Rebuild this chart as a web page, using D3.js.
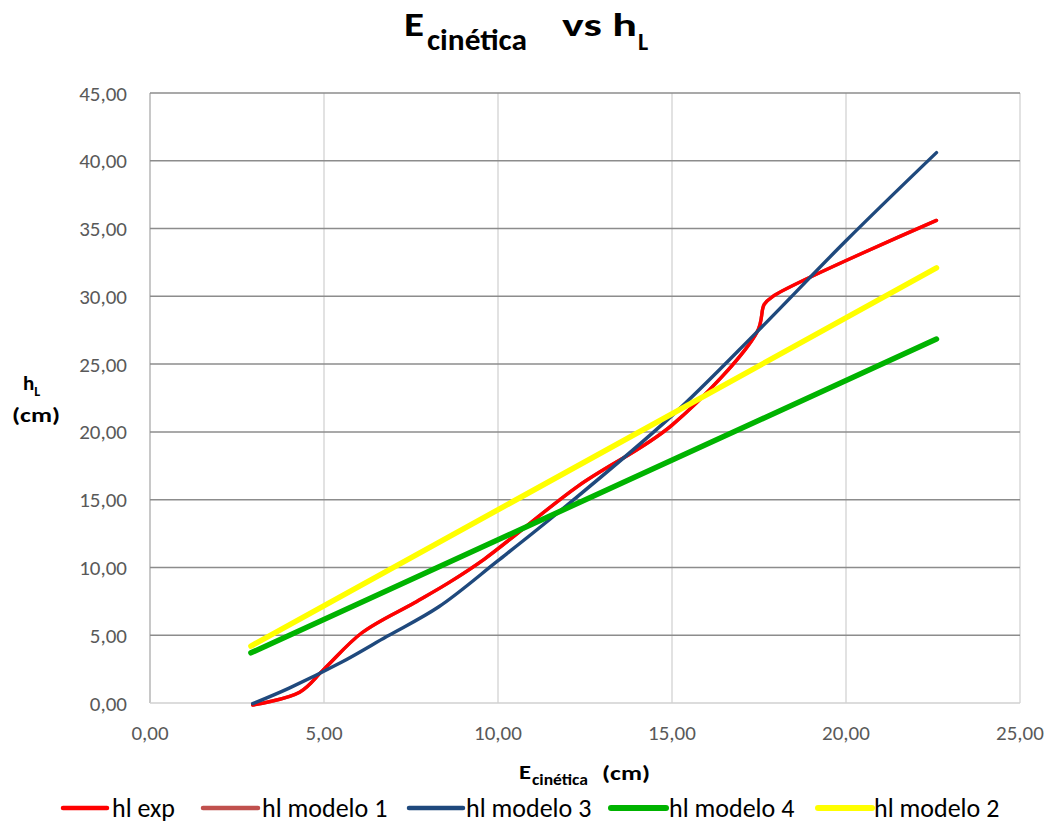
<!DOCTYPE html>
<html><head><meta charset="utf-8">
<script src="https://cdn.jsdelivr.net/npm/d3@7"></script>
<style>
html,body{margin:0;padding:0;background:#fff;}
svg{display:block;font-family:Carlito,Lato,"Open Sans",sans-serif;}
</style></head>
<body>
<svg id="chart" width="1055" height="825"></svg>
<script>
// ---- data ----
const xExp    = [2.95, 4.3, 5.0, 6.1, 7.6, 8.6, 9.6, 12.3, 15.0, 17.45, 17.65, 17.9, 22.6];
const hlExp   = [-0.15, 0.8, 2.5, 5.2, 7.4, 8.9, 10.6, 16.0, 20.5, 27.4, 29.4, 30.0, 35.6];
const hlModelo1 = hlExp.slice();
const xMod    = [2.95, 4.0, 5.5, 6.8, 8.3, 10.0, 11.8, 15.0, 17.45, 20.0, 22.6];
const hlModelo3 = [-0.05, 1.1, 3.0, 4.9, 7.1, 10.5, 14.2, 21.2, 27.4, 34.1, 40.6];
const xLin    = [2.9, 22.6];
const hlModelo4 = [3.7, 26.85];
const hlModelo2 = [4.2, 32.1];
const xTicks = [0, 5, 10, 15, 20, 25];
const yTicks = [0, 5, 10, 15, 20, 25, 30, 35, 40, 45];
const legendNames = ["hl exp", "hl modelo 1", "hl modelo 3", "hl modelo 4", "hl modelo 2"];

// ---- layout ----
const L = 150, R = 1020, T = 93, B = 703;
const svg = d3.select("#chart");
const x = d3.scaleLinear().domain([0, 25]).range([L, R]);
const y = d3.scaleLinear().domain([0, 45]).range([B, T]);
const fmt = d => d3.format(".2f")(d).replace(".", ",");

// vertical gridlines
svg.append("g").selectAll("line").data(xTicks).join("line")
  .attr("x1", d => x(d)).attr("x2", d => x(d)).attr("y1", T).attr("y2", B)
  .attr("stroke", "#d9d9d9").attr("stroke-width", 1.5);
// left border
svg.append("line").attr("x1", L).attr("x2", L).attr("y1", T).attr("y2", B)
  .attr("stroke", "#bfbfbf").attr("stroke-width", 1.5);
// horizontal gridlines
svg.append("g").selectAll("line").data(yTicks.filter(d => d > 0)).join("line")
  .attr("x1", L).attr("x2", R).attr("y1", d => y(d)).attr("y2", d => y(d))
  .attr("stroke", "#8c8c8c").attr("stroke-width", 1.5);
// bottom axis line
svg.append("line").attr("x1", L).attr("x2", R).attr("y1", B).attr("y2", B)
  .attr("stroke", "#d0d0d0").attr("stroke-width", 1.5);

// tick labels
svg.append("g").selectAll("text").data(yTicks).join("text")
  .attr("x", 127).attr("y", d => y(d) + 7.5).attr("text-anchor", "end")
  .attr("font-size", 21).attr("fill", "#595959").text(fmt);
svg.append("g").selectAll("text").data(xTicks).join("text")
  .attr("x", d => x(d)).attr("y", 740).attr("text-anchor", "middle")
  .attr("font-size", 21).attr("fill", "#595959").text(fmt);

// series
const smooth = d3.line().curve(d3.curveCatmullRom.alpha(0.5)).x(d => x(d[0])).y(d => y(d[1]));
const straight = d3.line().x(d => x(d[0])).y(d => y(d[1]));
const zip = (xs, ys) => xs.map((v, i) => [v, ys[i]]);
const series = [
  {name: legendNames[0], data: zip(xExp, hlExp), color: "#ff0000", w: 3.4, gen: smooth},
  {name: legendNames[1], data: zip(xExp, hlModelo1), color: "#c0504d", w: 3.4, gen: smooth},
  {name: legendNames[2], data: zip(xMod, hlModelo3), color: "#1f497d", w: 3.4, gen: smooth},
  {name: legendNames[3], data: zip(xLin, hlModelo4), color: "#00b300", w: 5.5, gen: straight},
  {name: legendNames[4], data: zip(xLin, hlModelo2), color: "#ffff00", w: 5.5, gen: straight}
];
const order = [1, 0, 2, 3, 4];
const plot = svg.append("g");
order.forEach(i => {
  const s = series[i];
  plot.append("path").attr("d", s.gen(s.data)).attr("fill", "none")
    .attr("stroke", s.color).attr("stroke-width", s.w)
    .attr("stroke-linecap", "round").attr("stroke-linejoin", "round");
});

// title (pieces placed to match reference)
const tg = svg.append("g").attr("font-weight", "bold").attr("fill", "#000");
tg.append("text").attr("x", 404).attr("y", 36).attr("font-size", 34)
  .attr("textLength", 20).attr("lengthAdjust", "spacingAndGlyphs").text("E");
tg.append("text").attr("x", 427).attr("y", 50).attr("font-size", 30)
  .attr("textLength", 100).attr("lengthAdjust", "spacingAndGlyphs").text("cinética");
tg.append("text").attr("x", 562).attr("y", 36).attr("font-size", 33)
  .attr("textLength", 75).attr("lengthAdjust", "spacingAndGlyphs").text("vs h");
tg.append("text").attr("x", 638).attr("y", 50).attr("font-size", 24).text("L");

// y axis title
const yt = svg.append("text").attr("x", 23).attr("y", 390)
  .attr("font-weight", "bold").attr("font-size", 21).attr("fill", "#000");
yt.append("tspan").text("h");
yt.append("tspan").attr("font-size", 14).attr("dy", 6).text("L");
svg.append("text").attr("x", 12).attr("y", 422)
  .attr("font-weight", "bold").attr("font-size", 21).attr("fill", "#000")
  .attr("textLength", 48).attr("lengthAdjust", "spacingAndGlyphs").text("(cm)");

// x axis title
const xg = svg.append("g").attr("font-weight", "bold").attr("fill", "#000");
xg.append("text").attr("x", 519).attr("y", 779).attr("font-size", 21)
  .attr("textLength", 12).attr("lengthAdjust", "spacingAndGlyphs").text("E");
xg.append("text").attr("x", 532).attr("y", 785).attr("font-size", 16)
  .attr("textLength", 56).attr("lengthAdjust", "spacingAndGlyphs").text("cinética");
xg.append("text").attr("x", 602).attr("y", 780).attr("font-size", 21)
  .attr("textLength", 48).attr("lengthAdjust", "spacingAndGlyphs").text("(cm)");

// legend
const legLine = [[63, 107], [203, 258], [409, 463], [611, 666], [818, 872]];
const legText = [112, 262, 466, 669, 874];
const lg = svg.append("g");
series.forEach((s, i) => {
  lg.append("line").attr("x1", legLine[i][0]).attr("x2", legLine[i][1]).attr("y1", 808).attr("y2", 808)
    .attr("stroke", s.color).attr("stroke-width", i >= 3 ? 6 : 4.5).attr("stroke-linecap", "round");
  lg.append("text").attr("x", legText[i]).attr("y", 817).attr("font-size", 26)
    .attr("fill", "#000").text(s.name);
});
</script>
</body></html>
